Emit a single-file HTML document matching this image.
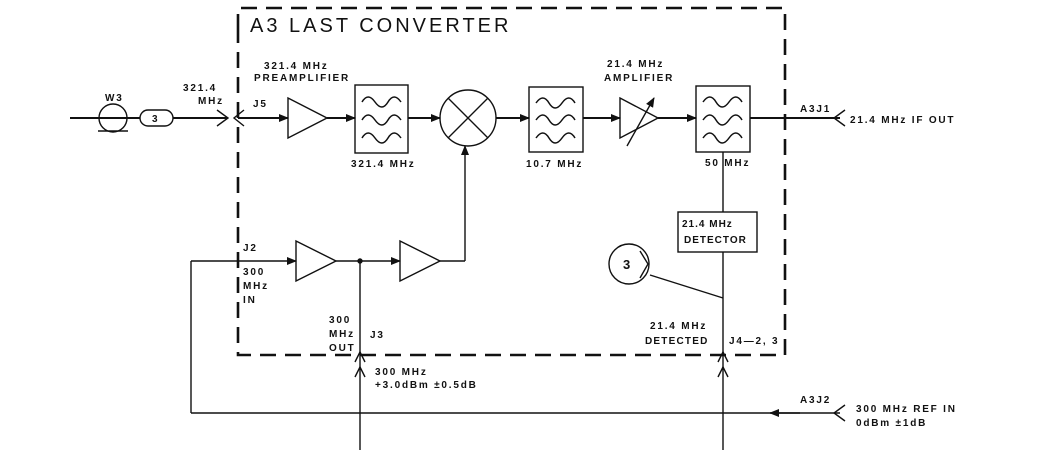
<!DOCTYPE html>
<html><head><style>
body{margin:0;background:#fff}
svg{display:block}
text{font-family:"Liberation Sans",sans-serif;fill:#111;font-weight:bold}
</style></head><body>
<svg width="1058" height="450" viewBox="0 0 1058 450" xmlns="http://www.w3.org/2000/svg">
<defs><marker id="a" markerWidth="10" markerHeight="8" refX="9" refY="4" orient="auto" markerUnits="userSpaceOnUse"><path d="M0,0 L10,4 L0,8z" fill="#111"/></marker></defs>
<g stroke="#111" fill="none" stroke-width="1.4">
<path d="M238,30 V8 H785 V355 H238 V30" stroke-width="2.6" stroke-dasharray="16,9"/>
<line x1="70" y1="118" x2="227" y2="118" stroke-width="2"/>
<path d="M217,110 L228,118 L217,126"/>
<circle cx="113" cy="118" r="14" fill="#fff"/>
<line x1="99" y1="118" x2="127" y2="118" stroke-width="2"/>
<line x1="98" y1="131" x2="128" y2="131"/>
<rect x="140" y="110" width="33" height="16" rx="8" fill="#fff"/>
<path d="M244,110 L234,118 L244,126"/>
<line x1="238" y1="118" x2="288" y2="118" stroke-width="2" marker-end="url(#a)"/>
<path d="M288,98 L327,118 L288,138z"/>
<line x1="327" y1="118" x2="355" y2="118" stroke-width="2" marker-end="url(#a)"/>
<rect x="355" y="85" width="53" height="68"/>
<line x1="408" y1="118" x2="440" y2="118" stroke-width="2" marker-end="url(#a)"/>
<circle cx="468" cy="118" r="28"/>
<path d="M448,98 L488,138 M488,98 L448,138"/>
<line x1="496" y1="118" x2="529" y2="118" stroke-width="2" marker-end="url(#a)"/>
<rect x="529" y="87" width="54" height="65"/>
<line x1="583" y1="118" x2="620" y2="118" stroke-width="2" marker-end="url(#a)"/>
<path d="M620,98 L658,118 L620,138z"/>
<line x1="627" y1="146" x2="654" y2="98" marker-end="url(#a)"/>
<line x1="658" y1="118" x2="696" y2="118" stroke-width="2" marker-end="url(#a)"/>
<rect x="696" y="86" width="54" height="66"/>
<line x1="750" y1="118" x2="840" y2="118" stroke-width="2"/>
<path d="M845,110 L834,118 L845,126"/>
<g stroke-width="1.5">
<path d="M362,102 q6,-10 13,0 t13,0 t13,0"/>
<path d="M362,120 q6,-10 13,0 t13,0 t13,0"/>
<path d="M362,138 q6,-10 13,0 t13,0 t13,0"/>
<path d="M536,103 q7,-10 13,0 t13,0 t13,0"/>
<path d="M536,120 q7,-10 13,0 t13,0 t13,0"/>
<path d="M536,138 q7,-10 13,0 t13,0 t13,0"/>
<path d="M703,102 q7,-10 13,0 t13,0 t13,0"/>
<path d="M703,120 q7,-10 13,0 t13,0 t13,0"/>
<path d="M703,138 q7,-10 13,0 t13,0 t13,0"/>
</g>
<line x1="191" y1="261" x2="296" y2="261" marker-end="url(#a)"/>
<line x1="191" y1="261" x2="191" y2="413"/>
<path d="M296,241 L336,261 L296,281z"/>
<line x1="336" y1="261" x2="400" y2="261" marker-end="url(#a)"/>
<circle cx="360" cy="261" r="2" fill="#111"/>
<path d="M400,241 L440,261 L400,281z"/>
<path d="M440,261 H465"/>
<line x1="465" y1="261" x2="465" y2="146" marker-end="url(#a)"/>
<line x1="360" y1="261" x2="360" y2="450"/>
<path d="M355,362 L360,352 L365,362"/>
<path d="M355,377 L360,367 L365,377"/>
<rect x="678" y="212" width="79" height="40"/>
<line x1="723" y1="152" x2="723" y2="212"/>
<line x1="723" y1="252" x2="723" y2="450"/>
<path d="M718,362 L723,352 L728,362"/>
<path d="M718,377 L723,367 L728,377"/>
<circle cx="629" cy="264" r="20"/>
<path d="M640,251 L648,264 L640,278"/>
<line x1="650" y1="275" x2="723" y2="298"/>
<line x1="191" y1="413" x2="840" y2="413"/>
<line x1="800" y1="413" x2="770" y2="413" marker-end="url(#a)"/>
<path d="M845,405 L834,413 L845,421"/>
</g>
<g font-size="10" letter-spacing="1.8">
<text x="250" y="32" font-size="20" style="font-weight:normal" letter-spacing="3">A3 LAST CONVERTER</text>
<text x="105" y="101">W3</text>
<text x="152" y="122">3</text>
<text x="183" y="91">321.4</text>
<text x="198" y="104">MHz</text>
<text x="253" y="107">J5</text>
<text x="264" y="69">321.4 MHz</text>
<text x="254" y="81">PREAMPLIFIER</text>
<text x="351" y="167">321.4 MHz</text>
<text x="526" y="167">10.7 MHz</text>
<text x="607" y="67">21.4 MHz</text>
<text x="604" y="81">AMPLIFIER</text>
<text x="705" y="166">50 MHz</text>
<text x="800" y="112">A3J1</text>
<text x="850" y="123">21.4 MHz IF OUT</text>
<text x="682" y="227" letter-spacing="1">21.4 MHz</text>
<text x="684" y="243" letter-spacing="1">DETECTOR</text>
<text x="623" y="269" font-size="13" letter-spacing="0">3</text>
<text x="243" y="251">J2</text>
<text x="243" y="275">300</text>
<text x="243" y="289">MHz</text>
<text x="243" y="303">IN</text>
<text x="329" y="323">300</text>
<text x="329" y="337">MHz</text>
<text x="329" y="351">OUT</text>
<text x="370" y="338">J3</text>
<text x="375" y="375">300 MHz</text>
<text x="375" y="388">+3.0dBm ±0.5dB</text>
<text x="650" y="329">21.4 MHz</text>
<text x="645" y="344" letter-spacing="1.2">DETECTED</text>
<text x="729" y="344">J4—2, 3</text>
<text x="800" y="403">A3J2</text>
<text x="856" y="412">300 MHz REF IN</text>
<text x="856" y="426">0dBm ±1dB</text>
</g>
</svg>
</body></html>
